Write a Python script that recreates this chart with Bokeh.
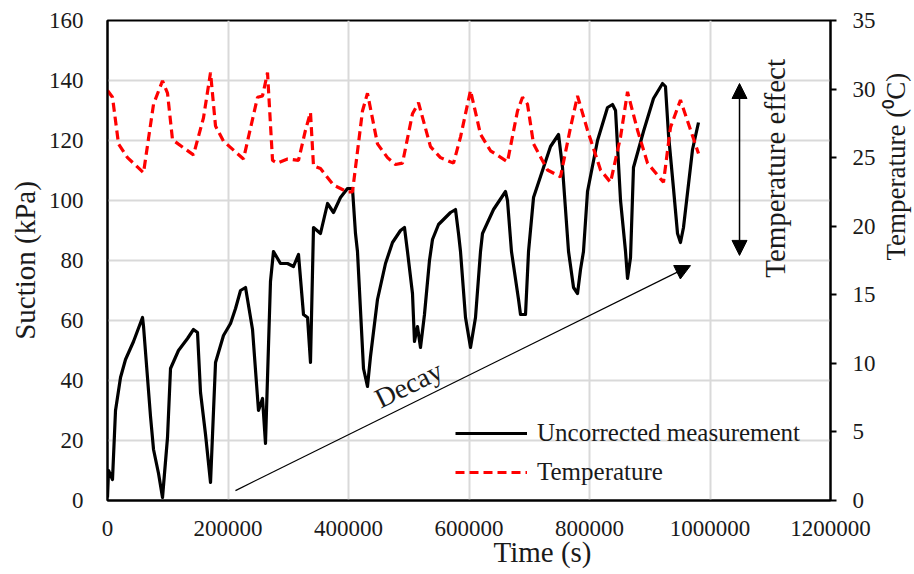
import math
from bokeh.plotting import figure
from bokeh.models import (Range1d, LinearAxis, FixedTicker, Legend, LegendItem,
                          Arrow, NormalHead, Label, Title)
from bokeh.embed import file_html
from bokeh.resources import INLINE

# ---------------- data ----------------
suction_t = [0, 1700, 8300, 13300, 21600, 29900, 43200, 58100, 59800, 71400, 76400, 84700,
             91300, 99600, 104600, 117800, 132800, 142700, 149400, 154400, 162700, 171000,
             179300, 192500, 204200, 212500, 220800, 229100, 240700, 250600, 257300, 262200,
             270500, 275500, 287100, 298800, 308700, 317000, 325300, 332000, 336900, 341900,
             353500, 365200, 375100, 386700, 398300, 406600, 411600, 414900, 424900, 431500,
             436500, 448100, 461400, 473000, 486300, 492900, 497900, 506200, 509500, 514500,
             519500, 526100, 534400, 539400, 549400, 569300, 577600, 582600, 585900, 594200,
             602500, 610800, 619100, 622400, 640700, 660600, 663900, 670500, 682200, 685500,
             693800, 698800, 707100, 718700, 735300, 748600, 755200, 765200, 773500, 780100,
             785100, 790000, 796700, 813300, 829900, 838200, 843200, 851500, 859800, 863100,
             868100, 873000, 889600, 906200, 921200, 926100, 931100, 939400, 946100, 951000,
             956000, 971000, 980900]
suction_kpa = [1, 10, 7, 30, 41, 47, 53, 61, 58, 28, 17, 9,
               1, 21, 44, 50, 54, 57, 56, 36, 22, 6,
               46, 55, 59, 64, 70, 71, 57, 30, 34, 19,
               73, 83, 79, 79, 78, 82, 62, 61, 46, 91,
               89, 99, 96, 101, 104, 104, 89, 83, 44, 38,
               48, 67, 79, 86, 90, 91, 83, 69, 53, 58,
               51, 62, 80, 87, 92, 96, 97, 89, 83, 61,
               51, 61, 83, 89, 97, 103, 100, 83, 67, 62,
               62, 83, 101, 108, 118, 122, 111, 83, 71, 69,
               77, 83, 103, 120, 131, 132, 130, 100, 83, 74,
               81, 111, 123, 134, 139, 138, 122, 104, 89, 86,
               91, 117, 126]

temp_t = [0, 8300, 18300, 33200, 59800, 76400, 91300, 99600, 107900, 142700, 159300, 171000,
          179300, 192500, 225700, 249000, 257300, 265600, 273900, 282200, 298800, 317000,
          328600, 336900, 341900, 353500, 375100, 398300, 406600, 423200, 431500, 448100,
          464700, 478000, 489600, 506200, 516200, 536100, 552700, 574300, 585900, 602500,
          619100, 635700, 663900, 680500, 688800, 697100, 707100, 730300, 751900, 768500,
          780100, 796700, 818300, 834900, 851500, 863100, 879700, 896300, 922800, 934400,
          951000, 980900]
temp_c = [29.9, 29.4, 26.0, 25.0, 23.9, 28.9, 30.6, 29.7, 26.3, 25.2, 27.9, 31.2,
          27.3, 26.2, 24.9, 29.4, 29.5, 31.2, 24.8, 24.6, 24.9, 24.8,
          27.0, 28.3, 24.4, 24.2, 23.0, 22.5, 22.5, 28.4, 29.7, 26.0,
          25.0, 24.5, 24.6, 28.2, 29.0, 25.8, 25.0, 24.6, 26.5, 29.9,
          26.7, 25.5, 24.7, 28.4, 29.4, 28.9, 26.0, 24.1, 23.6, 27.2,
          29.5, 27.0, 24.1, 23.2, 26.5, 29.8, 27.0, 24.6, 23.2, 27.2,
          29.2, 25.3]

x_ticks = [0, 200000, 400000, 600000, 800000, 1000000, 1200000]
x_tick_labels = ["0", "200000", "400000", "600000", "800000", "1000000", "1200000"]
y_ticks = [0, 20, 40, 60, 80, 100, 120, 140, 160]
y2_ticks = [0, 5, 10, 15, 20, 25, 30, 35]

FONT = "Liberation Serif"
TXT = "#1a1a1a"

p = figure(frame_width=723, frame_height=480,
           x_range=Range1d(0, 1200000), y_range=Range1d(0, 160),
           output_backend="svg", toolbar_location=None,
           min_border_left=107, min_border_top=20, min_border_right=84,
           min_border_bottom=70)
p.extra_y_ranges = {"temp": Range1d(0, 35)}
p.background_fill_color = "white"
p.border_fill_color = "white"
p.outline_line_color = "black"
p.outline_line_width = 2

# axes
xa = p.xaxis[0]
xa.ticker = FixedTicker(ticks=x_ticks)
xa.major_label_overrides = {t: l for t, l in zip(x_ticks, x_tick_labels)}
ya = p.yaxis[0]
ya.ticker = FixedTicker(ticks=y_ticks)
ya.axis_label = "Suction (kPa)"
ya.axis_label_standoff = 5

ra = LinearAxis(y_range_name="temp", ticker=FixedTicker(ticks=y2_ticks))
ra.axis_label = "Temperature (\u2070C)"
ra.axis_label_orientation = math.pi / 2
ra.axis_label_standoff = 17
p.add_layout(ra, "right")

for ax in (xa, ya, ra):
    ax.axis_line_color = "black"
    ax.axis_line_width = 2
    ax.minor_tick_line_color = None
    ax.major_label_text_font = FONT
    ax.major_label_text_font_size = "23px"
    ax.major_label_text_color = TXT
    ax.axis_label_text_font = FONT
    ax.axis_label_text_font_size = "29px"
    ax.axis_label_text_font_style = "normal"
    ax.axis_label_text_color = TXT
ra.axis_label_text_font_size = "27px"
for ax in (xa, ya):
    ax.major_tick_line_color = None
    ax.major_tick_out = 0
    ax.major_tick_in = 0
xa.major_label_standoff = 20
ya.major_label_standoff = 24
ra.major_tick_line_color = "black"
ra.major_tick_line_width = 2
ra.major_tick_out = 6
ra.major_tick_in = 0
ra.major_label_standoff = 16

# x-axis title, placed right of the frame centre as in the original
p.add_layout(Title(text="Time (s)", align="left", offset=386, standoff=-10,
                   text_font=FONT, text_font_size="29px", text_font_style="normal",
                   text_color=TXT), "below")

# grid
p.xgrid.ticker = FixedTicker(ticks=x_ticks)
p.ygrid.ticker = FixedTicker(ticks=y_ticks)
for g in (p.xgrid[0], p.ygrid[0]):
    g.grid_line_color = "#D9D9D9"
    g.grid_line_width = 2

# series
r1 = p.line(suction_t, suction_kpa, line_color="black", line_width=3.2,
            line_join="round")
r2 = p.line(temp_t, temp_c, y_range_name="temp", line_color="#FF0000",
            line_width=3.2, line_dash="9 5")

legend = Legend(items=[LegendItem(label="Uncorrected measurement", renderers=[r1]),
                       LegendItem(label="Temperature", renderers=[r2])],
                location=(348, 10), border_line_color=None,
                background_fill_alpha=0, glyph_width=72, glyph_height=36,
                label_height=36, label_standoff=10, spacing=3, padding=0, margin=0,
                label_text_font=FONT, label_text_font_size="25px",
                label_text_color=TXT)
p.add_layout(legend)

# annotations
p.add_layout(Arrow(end=NormalHead(size=15, fill_color="black", line_color="black"),
                   x_start=212400, y_start=3.3, x_end=967600, y_end=78.3,
                   line_color="black", line_width=1.2))
p.add_layout(Arrow(start=NormalHead(size=15, fill_color="black", line_color="black"),
                   end=NormalHead(size=15, fill_color="black", line_color="black"),
                   x_start=1049000, y_start=81.7, x_end=1049000, y_end=139,
                   line_color="black", line_width=1.5))

p.add_layout(Label(x=499600, y=38.7, text="Decay", angle=26.3, angle_units="deg",
                   text_align="center", text_baseline="middle",
                   text_font=FONT, text_font_size="28px", text_color=TXT))
p.add_layout(Label(x=1108700, y=110.7, text="Temperature effect", angle=90,
                   angle_units="deg", text_align="center", text_baseline="middle",
                   text_font=FONT, text_font_size="29px", text_color=TXT))

open("out.html", "w").write(file_html(p, INLINE))
